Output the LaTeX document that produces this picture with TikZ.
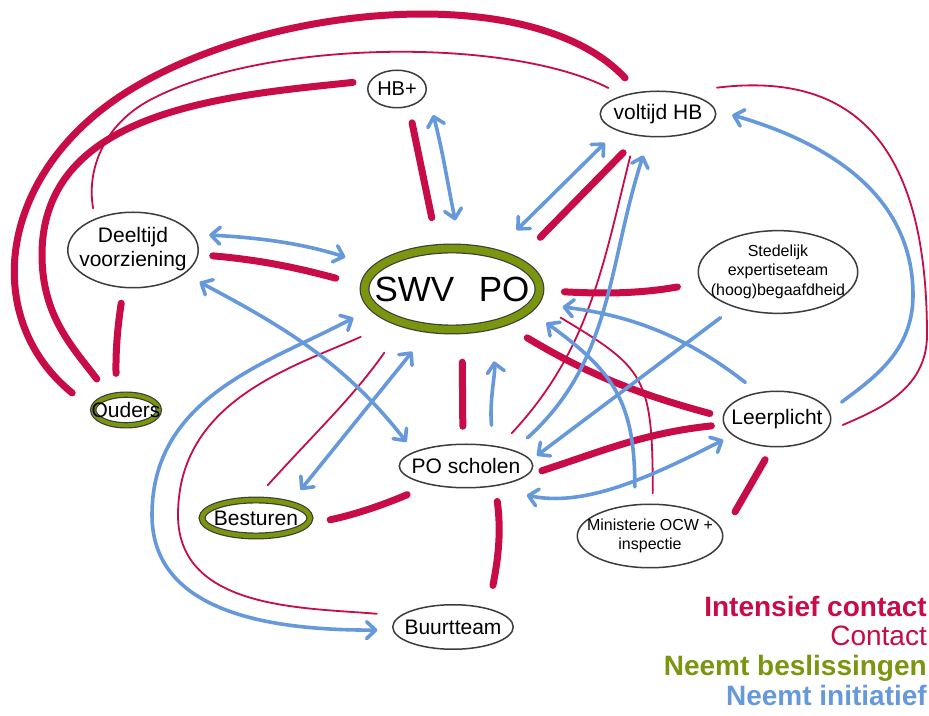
\documentclass[tikz,border=0pt]{standalone}
\usepackage{fontspec}
\setmainfont{Liberation Sans}
\usetikzlibrary{shapes.geometric,arrows.meta}

\definecolor{rood}{RGB}{200,12,72}
\definecolor{groen}{RGB}{122,150,14}
\definecolor{blauw}{RGB}{102,153,220}
\definecolor{rand}{RGB}{60,60,60}

% tekst zonder breedte, zodat de ellips zijn eigen maat houdt
\newcommand{\ovl}[1]{\makebox[0pt]{#1}}
\newcommand{\ovlines}[1]{\makebox[0pt]{\begin{tabular}{@{}c@{}}#1\end{tabular}}}

\tikzset{
  partij/.style={ellipse, draw=rand, line width=1.5pt, fill=white, inner sep=0pt, outer sep=0pt,
                 font=\fontsize{21}{25}\selectfont},
  beslist/.style={partij, line width=1.2pt, double=groen, double distance=#1},
  beslist/.default=4pt,
  intens/.style={draw=rood, line width=7pt, line cap=round},
  contact/.style={draw=rood, line width=1.8pt, line cap=round},
  initiatief/.style={draw=blauw, line width=3.6pt, line cap=round},
  legenda/.style={anchor=base east, inner sep=0pt, font=\fontsize{28}{30}\selectfont},
  >={Straight Barb[length=9pt, width=17pt, round]}
}

\begin{document}
\begin{tikzpicture}[x=1pt, y=1pt]
    \path[use as bounding box, fill=white] (0,0) rectangle (929,715);

    % partijen
    \node[beslist=7.5pt, minimum width=175pt, minimum height=81pt, font=\fontsize{35}{40}\selectfont] (swv) at (452,426) {\ovl{SWV\hspace{0.7em}PO}};
    \node[partij, minimum width=58.5pt, minimum height=37.5pt, font=\fontsize{20}{24}\selectfont] (hbplus) at (397,626) {\ovl{HB+}};
    \node[partij, minimum width=115.5pt, minimum height=45.5pt] (voltijd) at (658,601) {\ovl{voltijd HB}};
    \node[partij, minimum width=130.5pt, minimum height=75.5pt, font=\fontsize{21}{24}\selectfont] (deeltijd) at (133,465) {\ovlines{Deeltijd\\voorziening}};
    \node[partij, minimum width=159.5pt, minimum height=82.5pt, font=\fontsize{16}{19.5}\selectfont] (stedelijk) at (778,443) {\ovlines{Stedelijk\\expertiseteam\\(hoog)begaafdheid}};
    \node[beslist, minimum width=65.6pt, minimum height=30.6pt] (ouders) at (126,305) {\ovl{Ouders}};
    \node[partij, minimum width=107.5pt, minimum height=55.5pt] (leerplicht) at (777,296) {\ovl{Leerplicht}};
    \node[partij, minimum width=133.5pt, minimum height=43.5pt] (poscholen) at (466,249) {\ovl{PO scholen}};
    \node[beslist=4.5pt, minimum width=108pt, minimum height=36pt] (besturen) at (256,197) {\ovl{Besturen}};
    \node[partij, minimum width=145.5pt, minimum height=63.5pt, font=\fontsize{16}{19}\selectfont] (ministerie) at (650,179) {\ovlines{Ministerie OCW +\\inspectie}};
    \node[partij, minimum width=120.5pt, minimum height=44.5pt] (buurtteam) at (453,88) {\ovl{Buurtteam}};

    % contact
    \draw[contact, shorten <=11pt, shorten >=17pt] (deeltijd.141) to[out=100,in=208] (150,615) to[out=28,in=153,looseness=0.7] (voltijd.152);
    \draw[contact, shorten <=20pt, shorten >=36pt] (besturen.95) to[out=48,in=235] (swv.216);
    \draw[contact, shorten <=40pt, shorten >=24pt] (swv.210) to[out=204,in=90] (178,200) to[out=270,in=175] (buurtteam.168);
    \draw[contact, shorten <=11pt, shorten >=30pt] (ministerie.85) to[out=90,in=-31,looseness=1.4] (swv.-9);
    \draw[contact, shorten <=19pt, shorten >=22pt] (poscholen.30) to[out=47,in=-104] (voltijd.223);
    \draw[contact, shorten <=40pt, shorten >=23pt] (voltijd.48) to[out=7,in=90,looseness=1.35] (927,380) to[out=270,in=24] (leerplicht.-19);

    % intensief contact
    \draw[intens, shorten <=27pt, shorten >=20pt] (ouders.180) to[out=141,in=220,looseness=1.15] (95,600) to[out=40,in=133,looseness=0.78] (voltijd.132);
    \draw[intens, shorten <=22pt, shorten >=18pt] (ouders.140) to[out=127,in=270] (42,460) to[out=90,in=186] (hbplus.162);
    \draw[intens, shorten <=16pt, shorten >=22pt] (deeltijd.256) to[bend right=5] (ouders.123);
    \draw[intens, shorten <=17pt, shorten >=32pt] (hbplus.-56) -- (swv.109);
    \draw[intens, shorten <=15pt, shorten >=30pt] (deeltijd.-4) to[out=-5,in=165] (swv.178);
    \draw[intens, shorten <=33pt, shorten >=18pt] (swv.-76) -- (poscholen.98);
    \draw[intens, shorten <=25pt, shorten >=26pt] (besturen.-8) to[out=12,in=203] (poscholen.208);
    \draw[intens, shorten <=16pt, shorten >=24pt] (poscholen.-34) to[out=-82,in=79] (buurtteam.27);
    \draw[intens, shorten <=18pt, shorten >=13pt] (poscholen.-10) to[out=18,in=186] (leerplicht.186);
    \draw[intens, shorten <=30pt, shorten >=14pt] (swv.-34) to[out=-31,in=165] (leerplicht.178);
    \draw[intens, shorten <=34pt, shorten >=24pt] (swv.23) -- (voltijd.230);
    \draw[intens, shorten <=25pt, shorten >=24pt] (swv.-1) to[out=-3,in=190] (stedelijk.188);
    \draw[intens, shorten <=15pt, shorten >=25pt] (leerplicht.261) -- (ministerie.2);

    % neemt initiatief
    \draw[initiatief, <->, shorten <=27pt, shorten >=29pt] (hbplus.0) to[out=-75,in=102] (swv.77);
    \draw[initiatief, <->, shorten <=18pt, shorten >=30pt] (besturen.23) -- (swv.242);
    \draw[initiatief, <->, shorten <=23pt, shorten >=16pt] (swv.193) to[out=208,in=90] (152,200) to[out=270,in=180] (buurtteam.183);
    \draw[initiatief, <->, shorten <=18pt, shorten >=13pt] (deeltijd.-25) to[out=-28,in=128] (poscholen.165);
    \draw[initiatief, <->, shorten <=17pt, shorten >=34pt] (deeltijd.15) to[out=-3,in=162] (swv.164);
    \draw[initiatief, ->, shorten <=21pt, shorten >=36pt] (poscholen.36) to[out=95,in=-80] (swv.-46);
    \draw[initiatief, <->, shorten <=41pt, shorten >=11pt] (poscholen.-45) to[out=-12,in=207] (leerplicht.200);
    \draw[initiatief, ->, shorten <=17pt, shorten >=29pt] (leerplicht.125) to[out=142,in=-7] (swv.-10);
    \draw[initiatief, ->, shorten <=18pt, shorten >=23pt] (ministerie.116) to[out=90,in=-36,looseness=1.2] (swv.-15);
    \draw[initiatief, ->, shorten <=19pt, shorten >=20pt] (poscholen.18) to[out=42,in=-108] (voltijd.249);
    \draw[initiatief, <->, shorten <=33pt, shorten >=18pt] (swv.41) -- (voltijd.202);
    \draw[initiatief, ->, shorten <=18pt, shorten >=8pt] (stedelijk.219) -- (poscholen.5);
    \draw[initiatief, ->, shorten <=16pt, shorten >=18pt] (leerplicht.8) to[out=37,in=270] (913,420) to[out=90,in=-16] (voltijd.4);

    % legenda
    \node[legenda, text=rood] (lintens) at (927,98) {\bfseries Intensief contact};
    \node[legenda, text=rood] (lcontact) at (927,69) {Contact};
    \node[legenda, text=groen] (lbeslist) at (927,40) {\bfseries Neemt beslissingen};
    \node[legenda, text=blauw] (linit) at (927,10) {\bfseries Neemt initiatief};
\end{tikzpicture}
\end{document}
